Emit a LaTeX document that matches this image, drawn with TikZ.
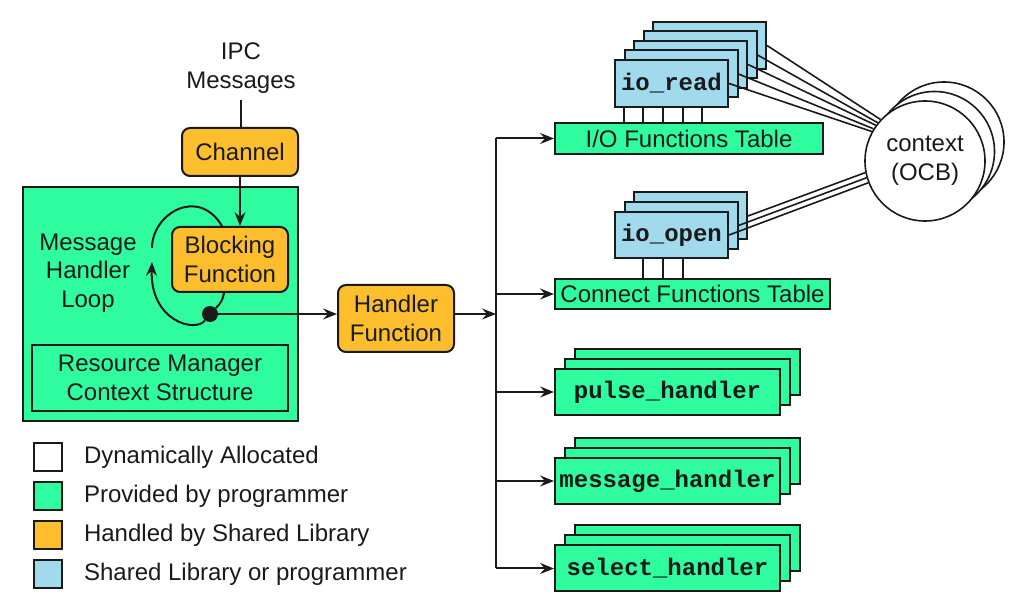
\documentclass[tikz,border=0pt]{standalone}
\usepackage{fontspec}
\setmainfont{Liberation Sans}
\setmonofont{Liberation Mono}
\usetikzlibrary{positioning,arrows.meta,calc}
\definecolor{grn}{HTML}{2EFC9E}
\definecolor{org}{HTML}{FDBE2E}
\definecolor{sky}{HTML}{A0DAEC}
\definecolor{ink}{HTML}{1A1A1A}
\tikzset{
  >={Stealth[length=7pt,width=5.5pt,inset=2.5pt]},
  box/.style={draw=ink, line width=1pt, inner sep=0pt, align=center, text=ink,
              font=\fontsize{12}{14.3}\selectfont},
  lib/.style={box, fill=org, rounded corners=4pt, minimum width=58pt},
  prog/.style={box, fill=grn},
  shrd/.style={box, fill=sky, minimum width=56.5pt, minimum height=23.5pt},
  hnd/.style={prog, minimum width=112.5pt, minimum height=23pt},
  fn/.style={font=\fontsize{12}{14.3}\selectfont\ttfamily\bfseries},
  ocb/.style={draw=ink, line width=0.8pt, circle, fill=white, minimum size=60pt, inner sep=0pt},
  key/.style={draw=ink, line width=1pt, minimum size=14pt, inner sep=0pt},
  txt/.style={font=\fontsize{12}{14.3}\selectfont, text=ink, align=center},
  l/.style={->, line width=1pt, draw=ink},
  ln/.style={line width=1pt, draw=ink},
  wire/.style={line width=0.8pt, draw=ink},
}
\begin{document}
\begin{tikzpicture}[x=0.5pt,y=0.5pt]
  \useasboundingbox (0,0) rectangle (1034,616);
  % resource manager side
  \node[txt] (ipc) at (241,548) {IPC\\Messages};
  \node[lib, minimum height=24pt] (ch) at (240,464) {Channel};
  \node[prog, minimum width=137.5pt, minimum height=117pt] (rm) at (160.5,312) {};
  \node[prog, line width=1.3pt, minimum width=128pt, minimum height=33pt] (rmc) at (160,238) {Resource Manager\\Context Structure};
  \node[lib, minimum height=32.5pt] (bf) at (230,356.5) {Blocking\\Function};
  \node[txt] (mhl) at (88,343) {Message\\Handler\\Loop};
  \node[circle, fill=ink, minimum size=8pt, inner sep=0pt] (dot) at (210,302) {};
  \coordinate (lpA) at (152,354);
  \coordinate (lpB) at (152,368);
  \draw[ln] (ipc.south) -- (ipc.south |- ch.north);
  \draw[l] (ch.south) -- (ch.south |- bf.north);
  \draw[l] (dot) .. controls (195,283) and (150,295) .. (lpA);
  \draw[ln] (lpB) .. controls (152,402) and (198,430) .. ([xshift=-4pt]bf.north);
  \draw[ln] ([xshift=-3pt]bf.south) to[out=-100,in=45] (dot);
  \node[lib, minimum height=33.5pt] (hf) at (396,297.5) {Handler\\Function};
  \draw[l] (dot) -- (dot -| hf.west);
  \coordinate (bus) at (496,302);
  \draw[l] (hf.east |- bus) -- (bus);
  % tables and their functions
  \node[prog, minimum width=134pt, minimum height=15.5pt] (iot) at (689,477.5) {I/O Functions Table};
  \node[prog, minimum width=137.5pt, minimum height=15pt] (cft) at (692.5,322) {Connect Functions Table};
  \foreach \k in {4,3,2,1} \node[shrd] (rd\k) at (671.5+9.5*\k,532.5+9.5*\k) {};
  \node[shrd,fn] (rd0) at (671.5,532.5) {io\_read};
  \foreach \k in {2,1} \node[shrd] (op\k) at (671.5+9.5*\k,381+9.5*\k) {};
  \node[shrd,fn,minimum height=23pt] (op0) at (671.5,381) {io\_open};
  \foreach \s in {-23.75,-14.25,-4.25,5.75,15.25}
    \draw[ln] ([xshift=\s pt]rd0.south) -- ([xshift=\s pt]rd0.south |- iot.north);
  \foreach \s in {-14.25,-4.25,5.75}
    \draw[ln] ([xshift=\s pt]op0.south) -- ([xshift=\s pt]op0.south |- cft.north);
  % context blocks
  \node[ocb] (ctx2) at (944,474) {};
  \node[ocb] (ctx1) at (934.5,464.5) {};
  \node[ocb,txt] (ctx) at (925,455) {context\\(OCB)};
  \foreach \k/\a in {0/151,1/148,2/144,3/141,4/137} \draw[wire] (rd\k.east) -- (ctx.\a);
  \foreach \k/\a in {0/201,1/196,2/191} \draw[wire] (op\k.east) -- (ctx.\a);
  % handlers
  \foreach \n/\y/\t in {ph/224/pulse\_handler,mh/135/message\_handler,sh/47.5/select\_handler}{
    \foreach \k in {2,1} \node[hnd] (\n\k) at (667.5+10*\k,\y+10*\k) {};
    \node[hnd,fn] (\n0) at (667.5,\y) {\t};
  }
  \draw[ln] (bus |- iot.west) -- (bus |- sh0.west);
  \foreach \n in {iot,cft,ph0,mh0,sh0} \draw[l] (bus |- \n.west) -- (\n.west);
  % legend
  \foreach \c/\t [count=\i] in {white/Dynamically Allocated,grn/Provided by programmer,org/Handled by Shared Library,sky/Shared Library or programmer}{
    \node[key, fill=\c] (k\i) at (48,198-39*\i) {};
    \node[txt, right=7pt of k\i] (kt\i) {\t};
  }
\end{tikzpicture}
\end{document}
